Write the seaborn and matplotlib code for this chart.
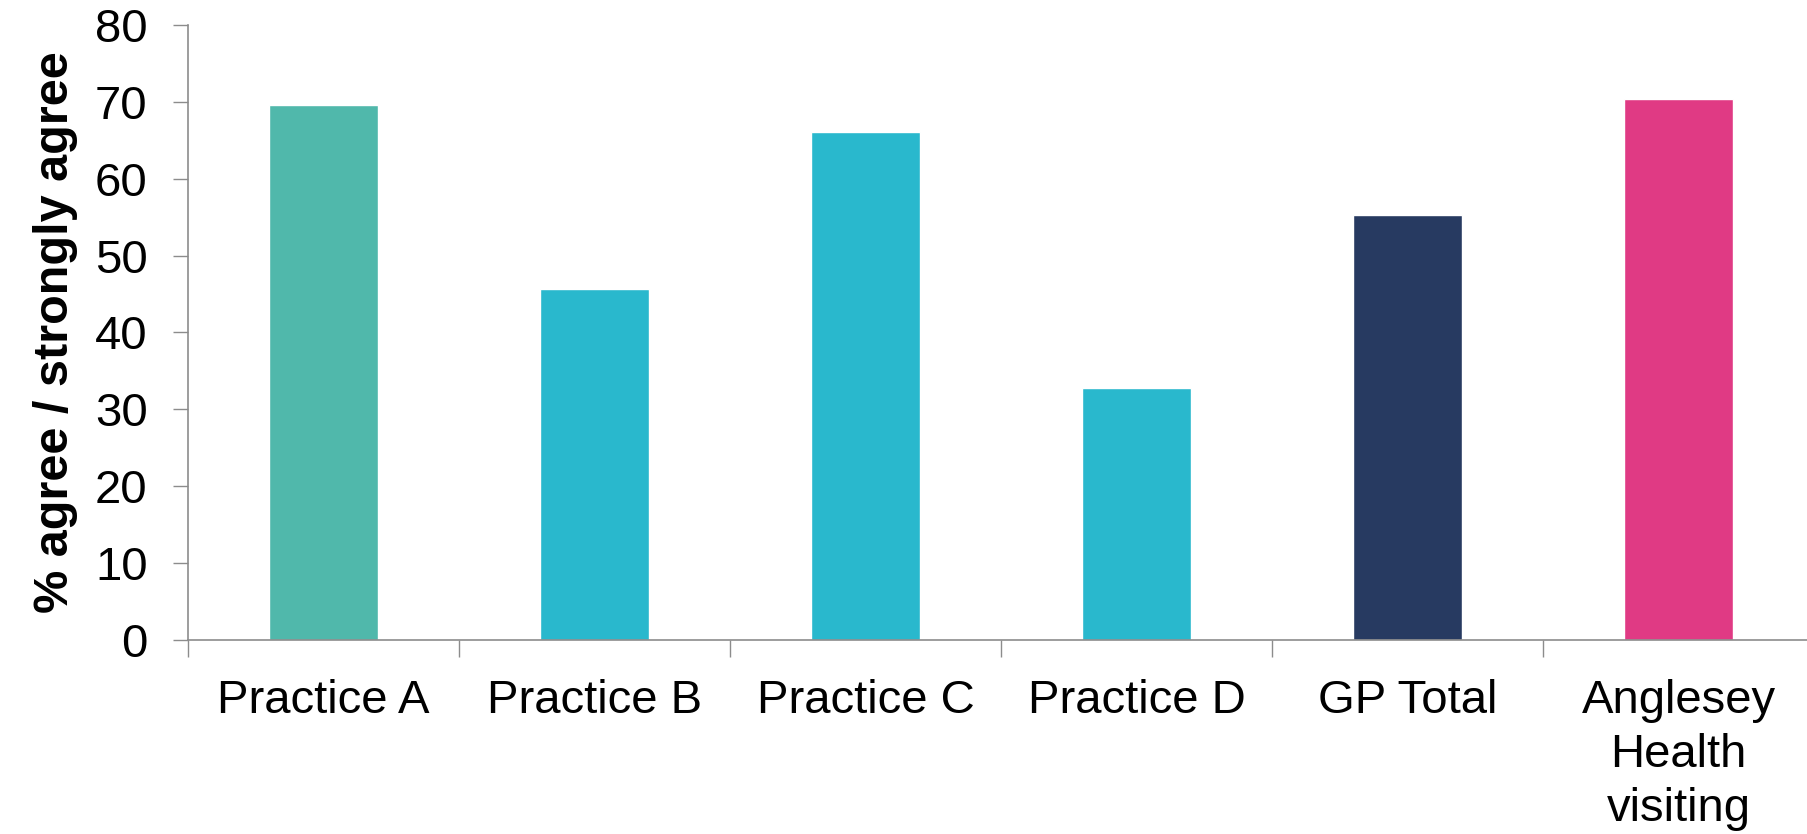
import numpy as np
import pandas as pd
import matplotlib
matplotlib.use('Agg')
import matplotlib.pyplot as plt
import seaborn as sns

# values
categories = ['Practice A', 'Practice B', 'Practice C', 'Practice D', 'GP Total',
              'Anglesey\nHealth\nvisiting']
values = [69.6, 45.6, 66.1, 32.7, 55.3, 70.4]
colours = ['#50B8AB', '#29B8CD', '#29B8CD', '#29B8CD', '#273A61', '#E03A84']
y_ticks = [0, 10, 20, 30, 40, 50, 60, 70, 80]

sns.set_style('white')
plt.rcParams['font.family'] = ['Liberation Sans', 'DejaVu Sans']
plt.rcParams['text.color'] = 'black'
plt.rcParams['xtick.labelcolor'] = 'black'
plt.rcParams['ytick.labelcolor'] = 'black'

df = pd.DataFrame({'cat': categories, 'val': values})

fig = plt.figure(figsize=(18.07, 8.34), dpi=100)
ax = fig.add_axes([0.104, 0.233, 0.900, 0.737])

sns.barplot(data=df, x='cat', y='val', hue='cat', palette=colours, legend=False,
            width=0.4, saturation=1, ax=ax)

ax.set_xlim(-0.5, 5.5)
ax.set_ylim(0, 80)
ax.set_yticks(y_ticks)
ax.set_xticks(np.arange(-0.5, 6, 1), minor=True)

grey = '#8c8c8c'
for s in ['top', 'right']:
    ax.spines[s].set_visible(False)
for s in ['left', 'bottom']:
    ax.spines[s].set_color(grey)
    ax.spines[s].set_linewidth(1.2)

ax.tick_params(axis='y', which='major', length=11, width=1, color=grey, pad=18,
               labelsize=34, left=True, labelcolor='black')
ax.tick_params(axis='x', which='major', length=0, pad=28, labelsize=34, labelcolor='black')
ax.tick_params(axis='x', which='minor', length=12, width=1, color=grey, bottom=True)
for lab in ax.get_xticklabels():
    lab.set_linespacing(1.3)
    lab.set_verticalalignment('top')

ax.set_xlabel('')
ax.set_ylabel('% agree / strongly agree', fontsize=35, fontweight='bold',
              color='black', labelpad=12)

fig.savefig('out.png', dpi=100)
